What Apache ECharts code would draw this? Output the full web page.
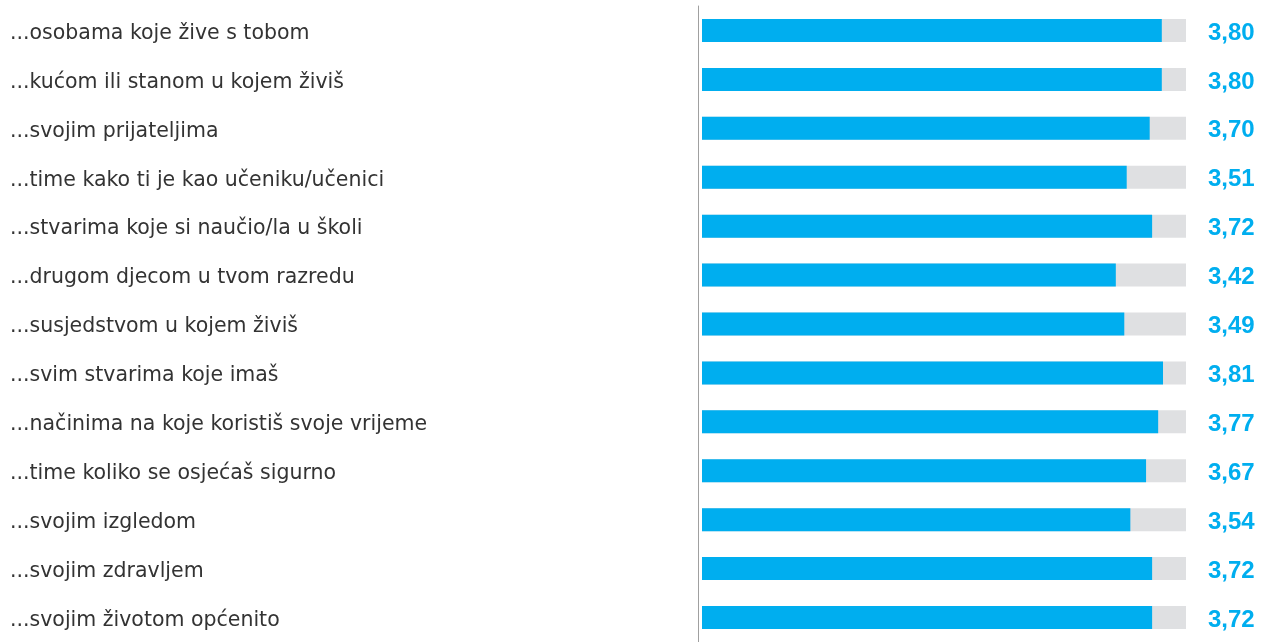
<!DOCTYPE html>
<html>
<head>
<meta charset="utf-8">
<script src="https://cdn.jsdelivr.net/npm/echarts@6/dist/echarts.min.js"></script>
<style>
html,body{margin:0;padding:0;background:#fff;}
#chart{width:1271px;height:642px;}
</style>
</head>
<body>
<div id="chart"></div>
<script>
const categories = [
  "...osobama koje žive s tobom",
  "...kućom ili stanom u kojem živiš",
  "...svojim prijateljima",
  "...time kako ti je kao učeniku/učenici",
  "...stvarima koje si naučio/la u školi",
  "...drugom djecom u tvom razredu",
  "...susjedstvom u kojem živiš",
  "...svim stvarima koje imaš",
  "...načinima na koje koristiš svoje vrijeme",
  "...time koliko se osjećaš sigurno",
  "...svojim izgledom",
  "...svojim zdravljem",
  "...svojim životom općenito"
];
const values = [3.80, 3.80, 3.70, 3.51, 3.72, 3.42, 3.49, 3.81, 3.77, 3.67, 3.54, 3.72, 3.72];
const scaleMax = 4;
const track = categories.map(() => scaleMax);

const chart = echarts.init(document.getElementById('chart'));
chart.setOption({
  animation: false,
  grid: { left: 702, top: 6, width: 484, height: 645, containLabel: false },
  xAxis: {
    type: 'value', min: 0, max: scaleMax,
    show: false
  },
  yAxis: {
    type: 'category', inverse: true, data: categories, offset: 4,
    axisLine: { show: true, onZero: false, lineStyle: { color: '#a0a0a0', width: 1 } },
    axisTick: { show: false },
    axisLabel: {
      align: 'left', margin: 688, verticalAlign: 'top', lineHeight: 6,
      fontFamily: 'DejaVu Sans', fontSize: 20.5, color: '#333333'
    }
  },
  series: [
    {
      type: 'bar', data: track, barWidth: 23, silent: true,
      itemStyle: { color: '#dfe0e2' },
      label: {
        show: true, position: 'right', distance: 22, verticalAlign: 'top', lineHeight: 5,
        fontFamily: 'Liberation Sans', fontWeight: 'bold', fontSize: 24, color: '#00aeef',
        formatter: p => values[p.dataIndex].toFixed(2).replace('.', ',')
      }
    },
    {
      type: 'bar', data: values, barWidth: 23, barGap: '-100%',
      itemStyle: { color: '#00aeef' }
    }
  ]
});
</script>
</body>
</html>
